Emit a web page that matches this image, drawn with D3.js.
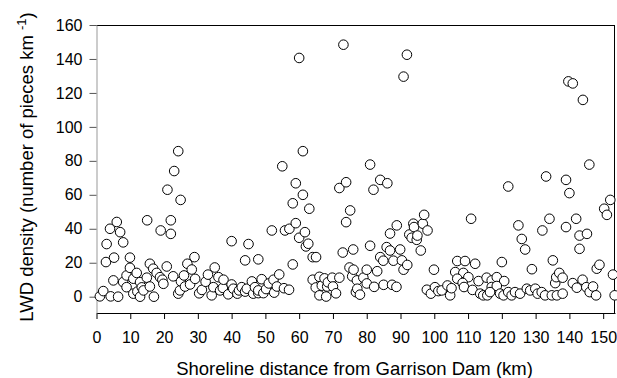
<!DOCTYPE html>
<html>
<head>
<meta charset="utf-8">
<script src="https://cdn.jsdelivr.net/npm/d3@7"></script>
<style>
  body { margin: 0; background: #fff; }
  svg text { font-family: "Liberation Sans", Arial, sans-serif; fill: #000; }
</style>
</head>
<body>
<div id="scatter"></div>
<script>
// shoreline distance (km) and LWD density, in matching order
var distKm = [
    1.0, 2.0, 2.8, 3.0, 4.0, 4.2, 5.0, 5.2, 6.0, 6.4, 7.0, 7.9, 7.9, 8.9, 8.9, 9.9, 9.9, 10.9, 10.9, 11.9,
    12.1, 12.9, 12.9, 13.4, 13.9, 14.9, 15.0, 15.8, 15.8, 16.8, 17.0, 17.8, 18.8, 19.0, 19.5, 19.8, 20.8, 21.0, 22.0, 22.0,
    22.7, 23.0, 24.2, 24.2, 24.7, 24.9,
    25.0, 25.9, 26.2, 26.9, 27.7, 28.2, 29.0, 29.2, 30.4, 31.2, 32.3, 33.0, 34.1, 34.6, 35.0, 36.1, 36.6, 37.4, 37.6, 39.0,
    40.0, 40.0, 40.5, 41.7, 42.2, 43.0, 44.0, 44.0, 44.5, 45.0, 46.0, 46.4, 46.9, 47.9, 47.9, 47.9, 48.9, 49.4, 50.2, 51.0,
    51.9, 52.6, 52.4, 53.4, 54.1, 55.0, 55.5, 55.8, 57.0, 57.1,
    58.1, 58.1, 59.0, 59.0, 60.0, 60.0, 61.1, 61.1, 61.7, 62.0, 62.7, 63.0, 64.0, 65.0, 64.0, 64.9, 66.0, 66.0, 66.7, 67.5,
    68.0, 68.3, 68.5, 69.8, 70.0, 70.9, 71.9, 71.9, 72.9, 73.1, 73.9, 73.9, 75.1, 74.9, 75.7, 76.0, 76.1, 76.8, 77.1, 77.2,
    78.0, 79.0, 80.0, 80.0,
    81.0, 81.0, 82.0, 82.2, 83.1, 84.0, 84.0, 84.9, 85.0, 85.9, 86.1, 86.9, 86.9, 87.5, 87.9, 88.8, 88.9, 89.9, 90.4, 90.9,
    90.9, 91.9, 92.0, 92.6, 93.3, 93.8, 94.0, 94.8, 95.0, 96.0, 96.6, 97.0, 97.8, 98.0, 99.0, 99.9, 100.2, 101.2, 102.2, 103.9,
    104.7, 105.1,
    106.8, 109.1, 112.1, 106.2, 108.6, 106.8, 110.1, 108.4, 108.8, 111.3, 113.1, 115.5, 117.0, 118.5, 120.7, 117.0, 118.5, 113.6, 114.5, 115.7,
    116.5, 119.5, 120.5, 121.9, 122.9, 123.9, 125.4, 127.4, 128.4, 129.9, 120.0, 121.9, 110.9, 124.9, 125.9, 126.9, 128.9,
    130.6, 131.8, 132.8, 134.8, 132.0, 133.1, 134.1, 135.1, 135.8, 136.1, 136.3, 137.0, 138.0, 138.0, 139.0, 139.0, 139.7, 140.0, 141.0, 141.0,
    142.0, 142.2, 143.0, 143.0, 143.9, 144.0, 145.0, 145.2, 145.9, 146.0, 147.0, 147.9, 148.1, 148.9, 150.3, 151.1, 152.1, 152.9, 153.4
];

var density = [
    0.2, 3.3, 20.4, 31, 40, 0.2, 9.6, 23, 44, 0, 38, 32, 8.6, 12.5, 5.6, 23, 17, 10.6, 1.8, 14,
    3, 8.6, 0, 5.5, 3.7, 11.2, 45, 19.4, 6, 16.5, 0, 14, 11.5, 39, 10, 7.6, 17.8, 63, 45, 37,
    12, 74, 85.7, 1.8, 3.7, 57,
    9, 12.5, 6, 19.4, 7.2, 16, 23.3, 10.5, 2, 4, 8.8, 13, 0.8, 5.6, 17.2, 11.5, 3.7, 5.2, 10, 1.4,
    32.7, 7.2, 4.7, 1.8, 3.7, 5.6, 21.4, 3, 4.7, 31, 9, 1.8, 5.6, 22, 2.1, 3.7, 10.3, 2.1, 4.5, 7.8,
    39, 2.4, 10, 6, 13.1, 76.8, 5, 39, 4.1, 40,
    55, 19, 66.8, 43.3, 140.6, 34.7, 85.7, 60, 38, 29.6, 31.2, 51.8, 23.3, 23.3, 10, 5.4, 11.7, 0.8, 6.5, 10.8,
    0.1, 6, 8.5, 11.2, 6, 2, 11.2, 64, 26, 148.4, 67.4, 43.9, 50.8, 17.2, 12, 27.8, 15.9, 2.7, 9.6, 4.7,
    1.2, 11.2, 15.9, 7.8,
    77.8, 30, 63, 5.8, 15, 68.8, 23.3, 21.2, 7, 29.2, 66.8, 27.2, 37.2, 7, 21.2, 5.8, 42, 27.8, 21.4, 129.6,
    15.9, 142.5, 18.7, 36.6, 34.7, 43, 41, 33.5, 36, 27.2, 43, 48.2, 4.1, 39, 1.8, 15.9, 5.6, 3.3, 3.7, 6.6,
    0.8, 5,
    21, 21, 19.4, 14.5, 14, 10.6, 11.5, 8.1, 5.7, 4, 9.2, 11.2, 9.6, 11.5, 9.2, 5.7, 6.3, 1.8, 0.8, 0.8,
    2.7, 1.8, 0.8, 2.7, 0.8, 2.7, 1.8, 4.7, 3.7, 4.7, 20.4, 64.9, 45.9, 42, 34, 27.8, 16.2,
    1.8, 2.7, 0.8, 0.8, 39, 70.8, 45.9, 21.4, 8, 11.5, 0.8, 14, 11.2, 1.8, 68.8, 41, 126.8, 61, 125.6, 8,
    45.9, 5.3, 36, 28.2, 10, 115.9, 5.6, 37, 77.8, 2.7, 6, 0.8, 16.5, 18.8, 51.8, 48.2, 57, 13, 0.8
];

// tick labels
var xTicks = [0, 10, 20, 30, 40, 50, 60, 70, 80, 90, 100, 110, 120, 130, 140, 150];
var yTicks = [0, 20, 40, 60, 80, 100, 120, 140, 160];

// svg nominal area
var svgWidth = 617;
var svgHeight = 378;

// margin around plot frame
var margin = {
    top: 25,
    right: 2,
    bottom: 65,
    left: 96.5
};

var chartWidth = svgWidth - margin.left - margin.right;
var chartHeight = svgHeight - margin.top - margin.bottom;

var svg = d3.select('#scatter')
    .append('svg')
    .attr('width', svgWidth)
    .attr('height', svgHeight);

var chartGroup = svg.append('g')
    .attr('transform', `translate(${margin.left}, ${margin.top})`);

var xLinearScale = d3.scaleLinear()
    .domain([0, 153.5])
    .range([0, chartWidth]);

var yLinearScale = d3.scaleLinear()
    .domain([-9.6, 160])
    .range([chartHeight, 0]);

// frame on top and right
chartGroup.append('line')
    .attr('x1', 0).attr('x2', chartWidth)
    .attr('y1', 0.5).attr('y2', 0.5)
    .attr('stroke', '#000');
chartGroup.append('line')
    .attr('x1', chartWidth - 0.5).attr('x2', chartWidth - 0.5)
    .attr('y1', 0).attr('y2', chartHeight)
    .attr('stroke', '#000');

var bottomAxis = d3.axisBottom(xLinearScale)
    .tickValues(xTicks)
    .tickSizeInner(6)
    .tickSizeOuter(0)
    .tickPadding(13);

var leftAxis = d3.axisLeft(yLinearScale)
    .tickValues(yTicks)
    .tickSizeInner(7)
    .tickSizeOuter(0)
    .tickPadding(7);

var xAxisGroup = chartGroup.append('g')
    .attr('transform', `translate(0, ${chartHeight})`)
    .call(bottomAxis);
xAxisGroup.selectAll('text').style('font-size', '16px');
xAxisGroup.select('.domain').attr('stroke', '#000');

var yAxisGroup = chartGroup.append('g')
    .call(leftAxis);
yAxisGroup.selectAll('text').style('font-size', '16px');
yAxisGroup.select('.domain').attr('stroke', '#999');
yAxisGroup.selectAll('.tick line').attr('stroke', '#555');

// open circles
var points = distKm.map((d, i) => ({ km: d, lwd: density[i] }));

chartGroup.selectAll('circle')
    .data(points)
    .enter()
    .append('circle')
    .attr('cx', d => xLinearScale(d.km))
    .attr('cy', d => yLinearScale(d.lwd))
    .attr('r', 4.8)
    .attr('fill', '#fff')
    .attr('stroke', '#000')
    .attr('stroke-width', 1);

// axis titles
svg.append('text')
    .attr('x', 354.5)
    .attr('y', 375)
    .attr('text-anchor', 'middle')
    .style('font-size', '18.5px')
    .text('Shoreline distance from Garrison Dam (km)');

var yTitle = svg.append('text')
    .attr('transform', 'translate(33, 167) rotate(-90)')
    .attr('text-anchor', 'middle')
    .style('font-size', '18.5px');
yTitle.append('tspan').text('LWD density (number of pieces km ');
yTitle.append('tspan')
    .attr('dy', -7)
    .style('font-size', '13px')
    .text('-1');
yTitle.append('tspan')
    .attr('dy', 7)
    .text(')');
</script>
</body>
</html>
